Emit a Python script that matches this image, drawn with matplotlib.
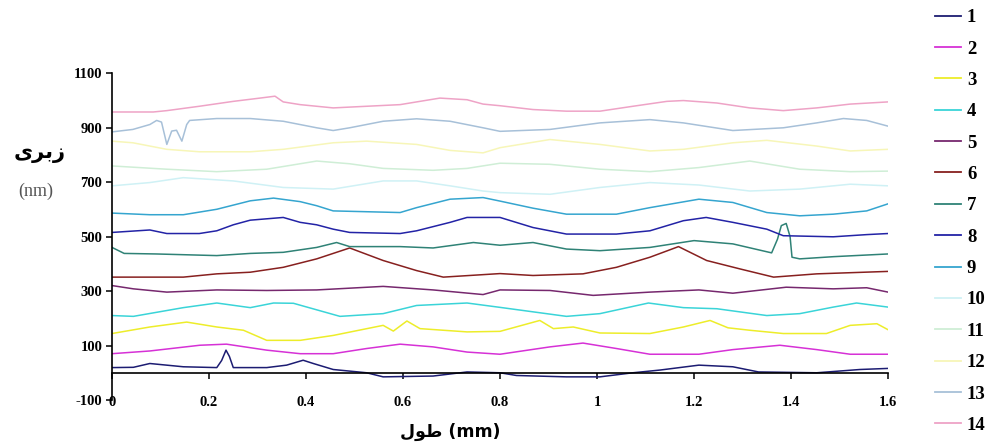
import matplotlib
matplotlib.use("Agg")
import matplotlib.pyplot as plt

# roughness profiles: length (mm) and height (nm)
x1 = [0, 0.044, 0.078, 0.147, 0.216, 0.226, 0.235, 0.242, 0.25, 0.319, 0.36, 0.394, 0.415, 0.456, 0.525, 0.559, 0.662, 0.732, 0.8, 0.834, 0.937, 1.006, 1.074, 1.13, 1.21, 1.28, 1.333, 1.453, 1.542, 1.6]
y1 = [19, 20, 34, 22, 19, 45, 83, 60, 19, 19, 28, 46, 34, 12, 0, -15, -12, 3, 0, -10, -15, -15, 0, 10, 28, 22, 3, 0, 12, 16]

x2 = [0, 0.078, 0.181, 0.236, 0.319, 0.388, 0.456, 0.525, 0.594, 0.662, 0.732, 0.8, 0.903, 0.971, 1.04, 1.109, 1.21, 1.28, 1.377, 1.453, 1.522, 1.6]
y2 = [70, 80, 101, 105, 83, 70, 70, 89, 105, 95, 76, 68, 95, 109, 89, 68, 68, 85, 101, 85, 68, 68]

x3 = [0, 0.078, 0.154, 0.216, 0.271, 0.319, 0.388, 0.456, 0.559, 0.58, 0.608, 0.635, 0.732, 0.8, 0.882, 0.91, 0.951, 1.006, 1.109, 1.178, 1.233, 1.27, 1.315, 1.384, 1.473, 1.522, 1.577, 1.6]
y3 = [144, 168, 186, 168, 156, 119, 119, 137, 174, 153, 190, 162, 150, 152, 192, 162, 168, 146, 144, 168, 192, 165, 156, 144, 144, 174, 180, 158]

x4 = [0, 0.044, 0.147, 0.216, 0.285, 0.333, 0.374, 0.422, 0.47, 0.559, 0.628, 0.732, 0.8, 0.937, 1.006, 1.106, 1.178, 1.247, 1.35, 1.418, 1.487, 1.535, 1.6]
y4 = [210, 207, 239, 256, 239, 256, 255, 231, 207, 217, 247, 256, 240, 207, 217, 256, 239, 235, 210, 217, 241, 256, 241]

x5 = [0, 0.044, 0.113, 0.216, 0.319, 0.422, 0.559, 0.662, 0.765, 0.8, 0.903, 0.992, 1.109, 1.21, 1.28, 1.39, 1.487, 1.556, 1.6]
y5 = [320, 308, 296, 304, 302, 304, 317, 304, 287, 304, 302, 284, 296, 304, 292, 314, 308, 312, 296]

x6 = [0, 0.044, 0.147, 0.216, 0.285, 0.353, 0.422, 0.49, 0.559, 0.628, 0.683, 0.8, 0.868, 0.971, 1.04, 1.109, 1.168, 1.226, 1.295, 1.364, 1.453, 1.6]
y6 = [351, 351, 351, 363, 369, 387, 418, 458, 412, 375, 351, 364, 357, 363, 387, 424, 463, 412, 381, 351, 363, 372]

x7 = [0, 0.025, 0.091, 0.216, 0.285, 0.353, 0.422, 0.463, 0.49, 0.594, 0.662, 0.745, 0.8, 0.868, 0.937, 1.006, 1.109, 1.2, 1.28, 1.36, 1.372, 1.38, 1.39, 1.398, 1.402, 1.418, 1.487, 1.6]
y7 = [460, 438, 436, 430, 438, 442, 460, 478, 463, 463, 458, 478, 468, 478, 454, 448, 460, 485, 473, 440, 490, 540, 548, 500, 424, 418, 426, 436]

x8 = [0, 0.078, 0.113, 0.18, 0.216, 0.25, 0.285, 0.353, 0.388, 0.422, 0.456, 0.49, 0.594, 0.628, 0.697, 0.732, 0.8, 0.868, 0.937, 1.04, 1.109, 1.178, 1.225, 1.28, 1.35, 1.384, 1.487, 1.556, 1.6]
y8 = [515, 524, 511, 511, 521, 543, 560, 570, 552, 543, 527, 515, 511, 521, 552, 570, 570, 533, 509, 509, 521, 558, 570, 552, 527, 503, 499, 507, 511]

x9 = [0, 0.078, 0.147, 0.216, 0.285, 0.333, 0.388, 0.422, 0.456, 0.525, 0.594, 0.628, 0.697, 0.765, 0.8, 0.868, 0.937, 1.04, 1.109, 1.21, 1.28, 1.35, 1.418, 1.487, 1.556, 1.6]
y9 = [586, 580, 580, 600, 631, 641, 628, 613, 594, 591, 588, 606, 637, 643, 630, 604, 582, 582, 606, 637, 625, 588, 576, 582, 594, 620]

x10 = [0, 0.078, 0.147, 0.25, 0.353, 0.456, 0.559, 0.628, 0.697, 0.765, 0.8, 0.903, 1.006, 1.109, 1.21, 1.315, 1.418, 1.522, 1.6]
y10 = [686, 698, 716, 704, 680, 674, 704, 704, 686, 667, 661, 655, 680, 698, 689, 667, 674, 692, 686]

x11 = [0, 0.113, 0.216, 0.319, 0.422, 0.49, 0.559, 0.662, 0.732, 0.8, 0.903, 1.006, 1.109, 1.21, 1.315, 1.418, 1.522, 1.6]
y11 = [759, 747, 738, 747, 777, 767, 750, 743, 750, 769, 765, 747, 738, 753, 777, 747, 738, 740]

x12 = [0, 0.043, 0.113, 0.18, 0.285, 0.353, 0.456, 0.525, 0.628, 0.697, 0.765, 0.8, 0.903, 1.006, 1.109, 1.178, 1.28, 1.35, 1.453, 1.522, 1.6]
y12 = [850, 844, 820, 811, 811, 820, 844, 850, 838, 816, 807, 826, 856, 838, 814, 820, 844, 853, 832, 814, 820]

x13 = [0, 0.043, 0.078, 0.092, 0.102, 0.113, 0.123, 0.133, 0.144, 0.154, 0.16, 0.216, 0.285, 0.353, 0.422, 0.456, 0.49, 0.559, 0.628, 0.697, 0.765, 0.8, 0.903, 1.006, 1.109, 1.178, 1.28, 1.384, 1.453, 1.508, 1.556, 1.6]
y13 = [884, 893, 911, 926, 920, 838, 887, 890, 850, 911, 926, 933, 933, 923, 899, 889, 899, 923, 932, 923, 899, 886, 893, 917, 929, 917, 889, 899, 917, 933, 926, 905]

x14 = [0, 0.085, 0.113, 0.18, 0.25, 0.305, 0.336, 0.353, 0.388, 0.456, 0.525, 0.594, 0.628, 0.676, 0.732, 0.765, 0.8, 0.868, 0.937, 1.006, 1.074, 1.144, 1.178, 1.247, 1.315, 1.384, 1.453, 1.522, 1.6]
y14 = [957, 957, 962, 978, 996, 1008, 1015, 994, 984, 972, 978, 984, 994, 1008, 1002, 986, 980, 966, 960, 960, 978, 996, 999, 990, 972, 962, 972, 986, 994]

series_x = [x1, x2, x3, x4, x5, x6, x7, x8, x9, x10, x11, x12, x13, x14]
series_y = [y1, y2, y3, y4, y5, y6, y7, y8, y9, y10, y11, y12, y13, y14]
labels = [str(i) for i in range(1, 15)]
colores = ["#1c1c72", "#d631d6", "#eded2a", "#3ad4d8", "#76286e", "#87201f",
           "#2f8276", "#2323a6", "#35a5cf", "#cff1f5", "#cfeed6", "#f7f6b8",
           "#a7c0d8", "#eea3c6"]

yticks = [-100, 100, 300, 500, 700, 900, 1100]
xticks = [0, 0.2, 0.4, 0.6, 0.8, 1, 1.2, 1.4, 1.6]
xticklabels = ["0", "0.2", "0.4", "0.6", "0.8", "1", "1.2", "1.4", "1.6"]

fig = plt.figure(figsize=(9.94, 4.48), dpi=100)
ax = fig.add_axes([0.1127, 0.1071, 0.7807, 0.7299])

for xs, ys, lab, col in zip(series_x, series_y, labels, colores):
    ax.plot(xs, ys, color=col, lw=1.1, label=lab)

ax.set_xlim(0, 1.6)
ax.set_ylim(-100, 1100)
ax.spines["top"].set_visible(False)
ax.spines["right"].set_visible(False)
ax.spines["bottom"].set_position(("data", 0))
ax.spines["left"].set_linewidth(1.2)
ax.spines["bottom"].set_linewidth(1.2)

serif = "Liberation Serif"
ax.set_yticks(yticks)
ax.set_yticklabels([str(v) for v in yticks], fontfamily=serif, fontweight="bold", fontsize=10.5)
ax.set_xticks(xticks)
ax.set_xticklabels(xticklabels, fontfamily=serif, fontweight="bold", fontsize=10.5)
ax.tick_params(axis="y", direction="out", length=4, width=1.1, pad=3)
ax.tick_params(axis="x", direction="out", length=4, width=1.1, pad=13)

# axis titles (Persian text written in presentation forms, visual order)
fig.text(40 / 994, 1 - 153 / 448, "\uFEEF\uFEAE\uFE91\uFEAF", family=["DejaVu Sans"],
         fontweight="bold", fontsize=15, ha="center", va="center")
fig.text(36 / 994, 1 - 191 / 448, "(nm)", family=[serif], fontsize=13,
         color="#555555", ha="center", va="center")
fig.text(450 / 994, 1 - 432 / 448, "\uFEDD\uFEEE\uFEC3 (mm)", family=["DejaVu Sans"],
         fontweight="bold", fontsize=12.5, ha="center", va="center")

leg = ax.legend(loc="upper left", bbox_to_anchor=(935 / 994, 1 - 9 / 448),
                bbox_transform=fig.transFigure, frameon=False, borderpad=0,
                borderaxespad=0, handlelength=1.4, handletextpad=0.3,
                labelspacing=0.76, prop={"family": serif, "weight": "bold", "size": 13.5})
for h in leg.get_lines():
    h.set_linewidth(1.3)

fig.savefig("out.png", dpi=100)
